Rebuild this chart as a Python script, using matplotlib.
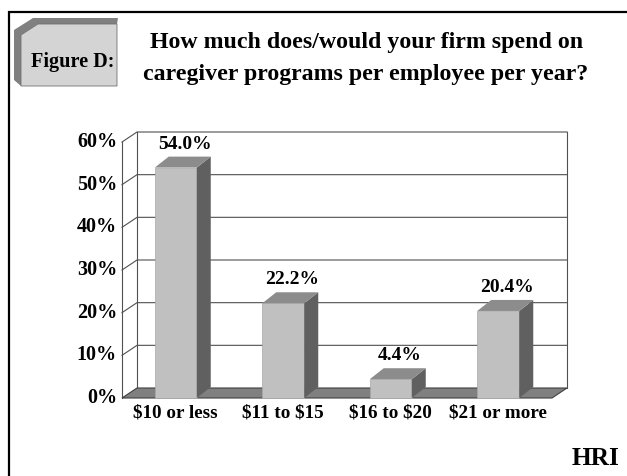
import numpy as np
import matplotlib
matplotlib.use('Agg')
import matplotlib.pyplot as plt
from matplotlib.patches import Polygon, Rectangle

# dades llegides del gràfic
categories = ['$10 or less', '$11 to $15', '$16 to $20', '$21 or more']
values = [54.0, 22.2, 4.4, 20.4]
yticks = [0, 10, 20, 30, 40, 50, 60]

plt.rcParams['font.family'] = ['Liberation Serif', 'DejaVu Serif']
plt.rcParams['font.weight'] = 'bold'
plt.rcParams['text.parse_math'] = False   # els $ són text, no mathtext

W, H = 627, 476
fig = plt.figure(figsize=(W/100, H/100), dpi=100)
fig.patch.set_facecolor('white')

# capa de decoració en píxels
deco = fig.add_axes([0, 0, 1, 1])
deco.set_xlim(0, W)
deco.set_ylim(H, 0)
deco.axis('off')

# marc (només esquerra i dalt)
deco.plot([8.5, 8.5, W + 5], [H + 5, 11.5, 11.5], color='black', lw=1.6,
          solid_joinstyle='miter', clip_on=False)

# caixa "Figure D:"
shadow = Polygon([(14, 80), (14, 30), (33, 18), (118, 18), (117, 24),
                  (38, 24), (21, 35), (21, 86)], closed=True,
                 facecolor='#808080', edgecolor='none')
face = Polygon([(21, 35), (38, 24), (117, 24), (117, 86), (21, 86)], closed=True,
               facecolor='#d4d4d4', edgecolor='#707070', lw=0.6)
deco.add_patch(shadow)
deco.add_patch(face)
deco.text(73, 62, 'Figure D:', fontsize=14.6, fontweight='bold',
          ha='center', va='center')

# títol
deco.text(366.5, 48, 'How much does/would your firm spend on', fontsize=17.2,
          fontweight='bold', ha='center', va='baseline')
deco.text(365.5, 80, 'caregiver programs per employee per year?', fontsize=17.2,
          fontweight='bold', ha='center', va='baseline')

deco.text(620, 465, 'HRI', fontsize=18.3, fontweight='bold',
          ha='right', va='baseline')

# eixos del gràfic (pla frontal)
x0, x1, yb, yt = 122, 552, 398, 142
ax = fig.add_axes([x0/W, (H - yb)/H, (x1 - x0)/W, (yb - yt)/H])
ax.set_xlim(-0.5, len(categories) - 0.5)
ax.set_ylim(0, 60)
ax.axis('off')
ax.patch.set_alpha(0)

ux = len(categories) / (x1 - x0)   # unitats x per píxel
uy = 60 / (yb - yt)                # unitats y per píxel
wdx, wdy = 15*ux, 10*uy            # profunditat de les parets
bdx, bdy = 14*ux, 11*uy            # profunditat de les barres
bw = 42*ux                         # amplada de barra

xl, xr = -0.5, len(categories) - 0.5
lc = '#505050'

# terra
floor = Polygon([(xl, 0), (xr, 0), (xr + wdx, wdy), (xl + wdx, wdy)], closed=True,
                facecolor='#808080', edgecolor='#404040', lw=0.8, clip_on=False, zorder=1)
ax.add_patch(floor)

# graella a la paret esquerra i del fons
for t in yticks:
    if t > 0:
        ax.plot([xl, xl + wdx, xr + wdx], [t, t + wdy, t + wdy], color=lc, lw=0.8,
                clip_on=False, zorder=0.5)
    ax.text(xl - 5*ux, t, f'{t}%', fontsize=14.5, fontweight='bold',
            ha='right', va='center')
ax.plot([xl, xl], [0, 60], color=lc, lw=0.8, clip_on=False, zorder=0.5)
ax.plot([xl + wdx, xl + wdx], [wdy, 60 + wdy], color=lc, lw=0.8, clip_on=False, zorder=0.5)
ax.plot([xr + wdx, xr + wdx], [wdy, 60 + wdy], color=lc, lw=0.8, clip_on=False, zorder=0.5)

# barres 3D
for i, v in enumerate(values):
    l, r = i - bw/2, i + bw/2
    ax.add_patch(Rectangle((l, 0), bw, v, facecolor='#c0c0c0', edgecolor='#a8a8a8',
                           lw=0.5, clip_on=False, zorder=3))
    ax.add_patch(Polygon([(r, 0), (r + bdx, bdy), (r + bdx, v + bdy), (r, v)], closed=True,
                         facecolor='#606060', edgecolor='none', clip_on=False, zorder=3))
    ax.add_patch(Polygon([(l, v), (r, v), (r + bdx, v + bdy), (l + bdx, v + bdy)], closed=True,
                         facecolor='#8c8c8c', edgecolor='none', clip_on=False, zorder=3))
    ax.text(i + bdx/2 + 2*ux, v + bdy + 0.9, f'{v:.1f}%', fontsize=14, fontweight='bold',
            ha='center', va='bottom')
    ax.text(i, -1.5, categories[i], fontsize=13.8, fontweight='bold',
            ha='center', va='top')

fig.savefig('out.png', dpi=100)
